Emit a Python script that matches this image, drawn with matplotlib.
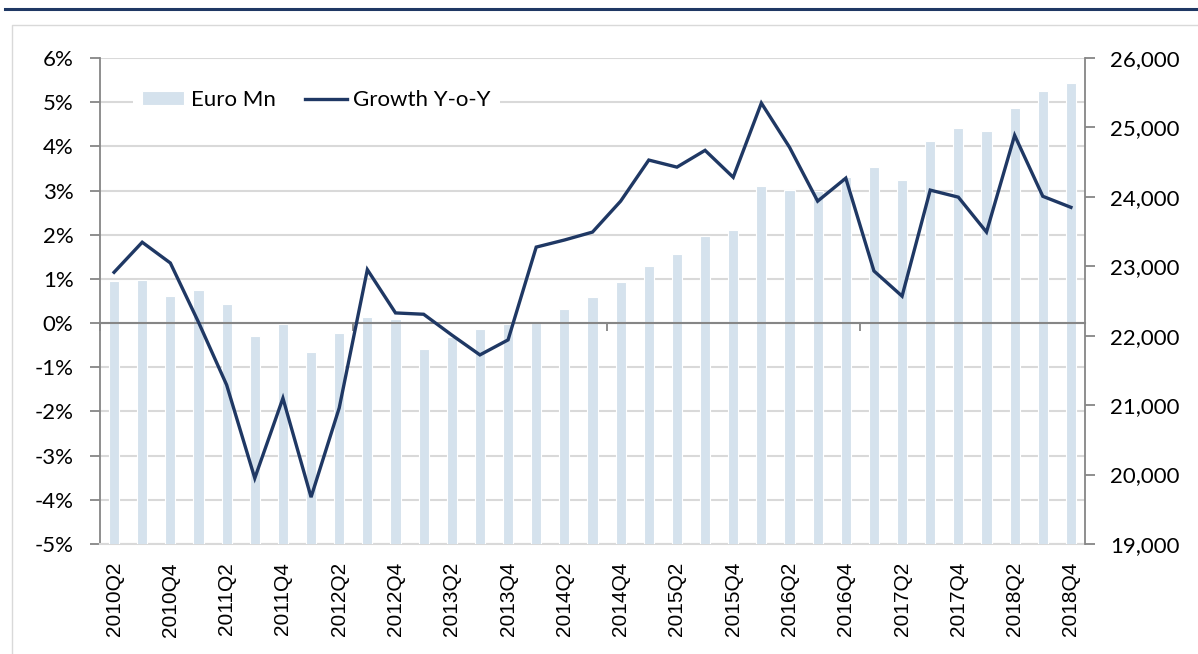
import matplotlib
matplotlib.use("Agg")
import matplotlib.pyplot as plt
from matplotlib.lines import Line2D
from matplotlib.ticker import FuncFormatter, FixedLocator

quarters = ["2010Q2", "2010Q3", "2010Q4", "2011Q1", "2011Q2", "2011Q3", "2011Q4",
            "2012Q1", "2012Q2", "2012Q3", "2012Q4", "2013Q1", "2013Q2", "2013Q3",
            "2013Q4", "2014Q1", "2014Q2", "2014Q3", "2014Q4", "2015Q1", "2015Q2",
            "2015Q3", "2015Q4", "2016Q1", "2016Q2", "2016Q3", "2016Q4", "2017Q1",
            "2017Q2", "2017Q3", "2017Q4", "2018Q1", "2018Q2", "2018Q3", "2018Q4"]

euro_mn = [22790, 22804, 22573, 22660, 22458, 21997, 22170, 21767, 22040, 22271,
           22242, 21810, 21983, 22098, 22170, 22184, 22386, 22559, 22775, 23006,
           23179, 23438, 23524, 24158, 24101, 24086, 24288, 24432, 24245, 24807,
           24994, 24951, 25282, 25527, 25643]

growth_yoy = [1.15, 1.83, 1.36, 0.02, -1.40, -3.51, -1.70, -3.94, -1.92, 1.21,
              0.23, 0.20, -0.27, -0.72, -0.38, 1.72, 1.88, 2.06, 2.76, 3.69,
              3.53, 3.91, 3.30, 4.98, 3.98, 2.76, 3.28, 1.18, 0.61, 3.01,
              2.85, 2.06, 4.25, 2.87, 2.62]

left_ticks = [-5, -4, -3, -2, -1, 0, 1, 2, 3, 4, 5, 6]
right_ticks = [19000, 20000, 21000, 22000, 23000, 24000, 25000, 26000]

BAR_COLOR = "#D5E2ED"
LINE_COLOR = "#1F3864"
AXIS_GRAY = "#868686"
GRID_GRAY = "#D9D9D9"
Y_FONT = "Lato"
X_FONT = "Liberation Sans"

W, H = 1198, 654
fig = plt.figure(figsize=(W / 100, H / 100), dpi=100)
fig.patch.set_facecolor("white")

pos = [100 / W, 1 - 544 / H, (1085 - 100) / W, (544 - 58) / H]
n = len(quarters)
xs = list(range(n))
xlim = (-0.5, n - 0.5)

# Base axis: left scale, gridlines, category labels
ax = fig.add_axes(pos)
ax.set_xlim(*xlim)
ax.set_ylim(left_ticks[0], left_ticks[-1])
ax.yaxis.set_major_locator(FixedLocator(left_ticks))
ax.yaxis.set_major_formatter(FuncFormatter(lambda v, p: f"{v:.0f}%"))
ax.yaxis.grid(True, color=GRID_GRAY, lw=1.5)
ax.set_axisbelow(True)
ax.tick_params(axis="y", direction="out", length=7, width=1.3, color=AXIS_GRAY,
               pad=12, labelsize=16)
for lab in ax.get_yticklabels():
    lab.set_fontfamily(Y_FONT)
ax.set_xticks(xs[::2])
ax.set_xticklabels(quarters[::2], rotation=90, fontsize=15, fontfamily=X_FONT)
ax.tick_params(axis="x", length=0, pad=13)
ax.spines["left"].set_color(AXIS_GRAY)
ax.spines["left"].set_linewidth(1.3)
ax.spines["top"].set_visible(False)
ax.spines["right"].set_visible(False)
ax.spines["bottom"].set_color(GRID_GRAY)
ax.spines["bottom"].set_linewidth(1.5)

# Bars on right scale
ax2 = ax.twinx()
ax2.set_ylim(right_ticks[0], right_ticks[-1])
bars = ax2.bar(xs, euro_mn, width=0.36, color=BAR_COLOR, edgecolor="white",
               linewidth=0.8, bottom=0, label="Euro Mn", zorder=2)
ax2.yaxis.set_major_locator(FixedLocator(right_ticks))
ax2.yaxis.set_major_formatter(FuncFormatter(lambda v, p: f"{v:,.0f}"))
ax2.tick_params(axis="y", direction="out", length=7, width=1.3, color=AXIS_GRAY,
                pad=11, labelsize=16)
for lab in ax2.get_yticklabels():
    lab.set_fontfamily(Y_FONT)
for s in ["left", "top", "bottom"]:
    ax2.spines[s].set_visible(False)
ax2.spines["right"].set_color(AXIS_GRAY)
ax2.spines["right"].set_linewidth(1.3)

# Top axis: zero line and growth line
ax3 = fig.add_axes(pos)
ax3.patch.set_visible(False)
ax3.set_xlim(*xlim)
ax3.set_ylim(left_ticks[0], left_ticks[-1])
ax3.set_yticks([])
for s in ["left", "top", "right"]:
    ax3.spines[s].set_visible(False)
ax3.spines["bottom"].set_position(("data", 0))
ax3.spines["bottom"].set_color(AXIS_GRAY)
ax3.spines["bottom"].set_linewidth(1.5)
ax3.set_xticks([b - 0.5 for b in range(0, n + 1, 9)])
ax3.set_xticklabels([])
ax3.tick_params(axis="x", direction="out", length=6, width=1.3, color=AXIS_GRAY)
line, = ax3.plot(xs, growth_yoy, color=LINE_COLOR, lw=2.4, label="Growth Y-o-Y",
                 solid_joinstyle="miter", zorder=3)

leg = ax3.legend([bars, line], ["Euro Mn", "Growth Y-o-Y"], ncol=2,
                 loc="center left", bbox_to_anchor=(133 / W, 1 - 100 / H),
                 bbox_transform=fig.transFigure, frameon=True, fancybox=False,
                 edgecolor="white", facecolor="white", framealpha=1,
                 prop={"family": Y_FONT, "size": 16}, handlelength=1.9,
                 handleheight=0.6, handletextpad=0.3, columnspacing=1.3,
                 borderpad=0.4, borderaxespad=0)
leg.get_frame().set_linewidth(0)
for t in leg.get_texts():
    t.set_color("black")

# Frame decorations
fig.add_artist(Line2D([5 / W, 1], [1 - 8.5 / H] * 2, color=LINE_COLOR, lw=2.2))
fig.add_artist(Line2D([12 / W, 12 / W, 1], [0, 1 - 25 / H, 1 - 25 / H],
                      color=GRID_GRAY, lw=1.0))

fig.savefig("out.png", dpi=100, facecolor="white")
